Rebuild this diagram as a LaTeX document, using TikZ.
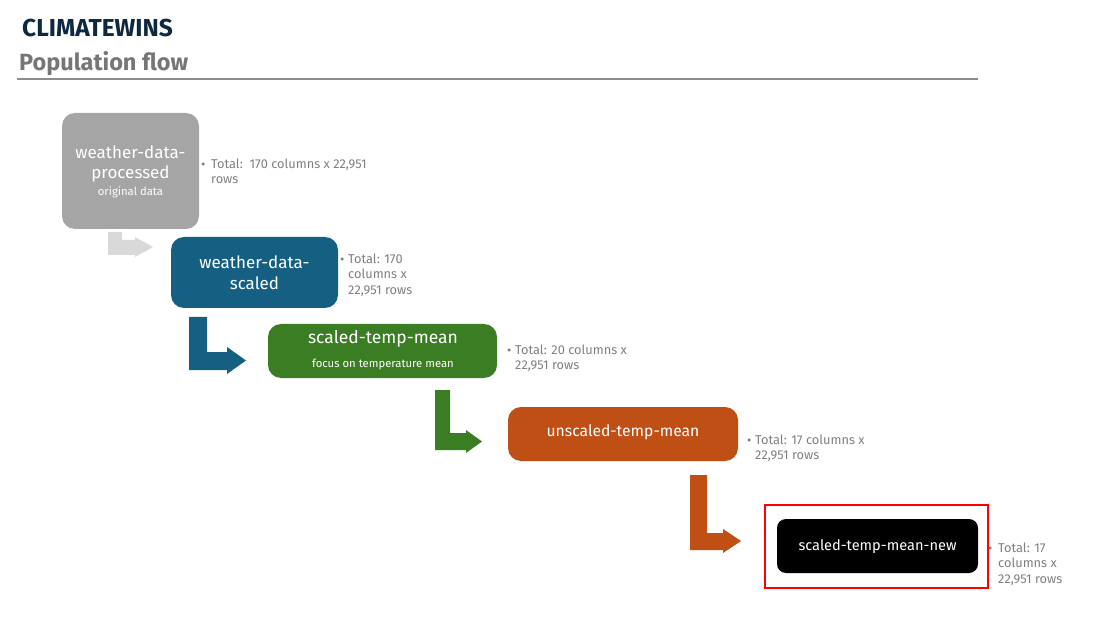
\documentclass[tikz,border=0pt]{standalone}
\usepackage{fontspec}
\setmainfont{Fira Sans}
\definecolor{navy}{HTML}{0E2841}
\definecolor{ttlgray}{HTML}{767676}
\definecolor{rulegray}{HTML}{8C8C8C}
\definecolor{txtgray}{HTML}{7F7F7F}
\definecolor{boxgray}{HTML}{A5A5A5}
\definecolor{arrgray}{HTML}{D9D9D9}
\definecolor{teal}{HTML}{156082}
\definecolor{grn}{HTML}{3B7D23}
\definecolor{org}{HTML}{C04F15}
\begin{document}
\begin{tikzpicture}[x=1pt,y=-1pt,
  box/.style={rounded corners=13pt,draw=none},
  boxtxt/.style={text=white,align=center,inner sep=0pt,font=\fontsize{17}{20.5}\selectfont},
  subtxt/.style={text=white,align=center,inner sep=0pt,font=\fontsize{11.3}{13}\selectfont},
  note/.style={text=txtgray,align=left,anchor=north west,inner sep=0pt,font=\fontsize{12.8}{15.5}\selectfont},
  dot/.style={circle,fill=txtgray,inner sep=0pt,minimum size=3.5pt},
  bentarrow/.style={draw=none}]
\useasboundingbox (0,0) rectangle (1111,628);
% titles
\node[anchor=base west,inner sep=0pt,text=navy,font=\fontsize{24.5}{28}\selectfont\bfseries] (title) at (22,36.5) {CLIMATEWINS};
\node[anchor=base west,inner sep=0pt,text=ttlgray,font=\fontsize{23.5}{27}\selectfont\bfseries] (sub) at (19,70.5) {Population flow};
\draw[rulegray,line width=1.8pt] (17,79) coordinate (r1) -- (978,79) coordinate (r2);

% box 1
\fill[boxgray,box] (62,113) rectangle (199,229);
\node[boxtxt] (b1) at (130.5,164) {weather-data-\\processed};
\node[subtxt] (b1s) at (130.5,192) {original data};
\node[dot] (d1) at (203,164) {};
\node[note] (n1) at (211,158.5) {Total:\ \ 170 columns x 22,951\\rows};

% arrow 1
\fill[arrgray,bentarrow] (108,232) -- (122,232) -- (122,240) -- (135,240) -- (135,237) -- (153,247) -- (135,257) -- (135,255) -- (108,255) -- cycle;

% box 2
\fill[teal,box] (171,237) rectangle (338,308);
\node[boxtxt] (b2) at (254.5,272.5) {weather-data-\\scaled};
\node[dot] (d2) at (342,259) {};
\node[note] (n2) at (348,253.5) {Total: 170\\columns x\\22,951 rows};

% arrow 2
\fill[teal,bentarrow] (189,317) -- (207,317) -- (207,352) -- (227,352) -- (227,347) -- (246,360.5) -- (227,374) -- (227,370) -- (189,370) -- cycle;

% box 3
\fill[grn,box] (268,324) rectangle (497,378);
\node[boxtxt,font=\fontsize{17.5}{20}\selectfont] (b3) at (383,338.5) {scaled-temp-mean};
\node[subtxt] (b3s) at (383,364) {focus on temperature mean};
\node[dot] (d3) at (509,350) {};
\node[note] (n3) at (515,344.5) {Total: 20 columns x\\22,951 rows};

% arrow 3
\fill[grn,bentarrow] (435,390) -- (450,390) -- (450,433) -- (466,433) -- (466,430) -- (482,441.5) -- (466,453) -- (466,450) -- (435,450) -- cycle;

% box 4
\fill[org,box] (508,407) rectangle (738,461);
\node[boxtxt,font=\fontsize{15.7}{18}\selectfont] (b4) at (623,432) {unscaled-temp-mean};
\node[dot] (d4) at (749,440) {};
\node[note] (n4) at (755,434.5) {Total: 17 columns x\\22,951 rows};

% arrow 4
\fill[org,bentarrow] (690,475) -- (707,475) -- (707,533) -- (723,533) -- (723,529) -- (741,541) -- (723,553) -- (723,550) -- (690,550) -- cycle;

% box 5
\draw[red,line width=2.5pt] (765,505) rectangle (988,588);
\fill[black,box,rounded corners=9pt] (777,519) rectangle (978,573);
\node[boxtxt,font=\fontsize{14.6}{17}\selectfont] (b5) at (877.5,547) {scaled-temp-mean-new};
\node[dot] (d5) at (990,548) {};
\node[note] (n5) at (998,542.5) {Total: 17\\columns x\\22,951 rows};
\end{tikzpicture}
\end{document}
